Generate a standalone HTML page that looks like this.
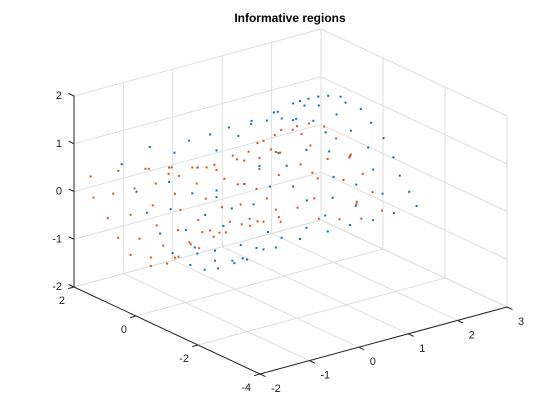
<!DOCTYPE html>
<html><head><meta charset="utf-8"><style>
html,body{margin:0;padding:0;background:#fff;}
svg{display:block;font-family:"Liberation Sans",Arial,sans-serif;}
</style></head><body>
<svg id="chart" width="560" height="420" viewBox="0 0 560 420" xmlns="http://www.w3.org/2000/svg">
<rect width="560" height="420" fill="#fff"/>
<text x="290" y="22" text-anchor="middle" font-size="12" font-weight="bold" fill="#000">Informative regions</text>
<g id="grid"></g>
<g id="axes"></g>
<g id="pts"></g>
</svg>
<script>
const xTicks=[-2,-1,0,1,2,3];
const yTicks=[-4,-2,0,2];
const zTicks=[-2,-1,0,1,2];
const yDepth=0;
const blueX=[-2.29,-1.72,-0.93,-0.50,-1.22,-0.37,-0.12,0.34,0.33,0.07,0.65,0.79,0.87,0.95,1.24,1.18,1.32,1.49,1.41,1.69,1.89,2.14,2.24,1.70,2.06,2.55,1.59,1.84,2.35,2.76,3.01,2.70,1.91,1.45,3.21,2.32,2.80,3.34,3.53,3.68,2.99,2.46,2.00,3.22,2.80,2.33,1.88,1.83,1.98,2.45,1.46,1.45,1.32,0.95,1.18,0.71,0.50,0.38,-0.06,0.19,-0.37,-0.86,-1.33,-1.99,-1.78,-1.30,-1.51,-0.99,-0.60,-0.23,-0.40,-0.81,-1.26,-0.76,-0.40,-0.01,-0.05,0.16,0.25,0.44,0.58,0.83,0.67,0.12,-0.34,-0.61,-0.90,1.05,1.18,0.88,-0.75,-0.37];
const blueZ=[1.26,1.46,1.37,1.38,1.20,1.01,1.42,1.43,1.37,1.19,1.35,1.48,1.47,1.31,1.22,1.56,1.57,1.57,1.45,1.56,1.52,1.43,1.28,1.37,1.08,1.06,1.08,0.77,0.66,0.71,0.32,0.21,0.35,0.51,-0.14,0.11,-0.28,-0.56,-0.95,-1.29,-0.84,-0.50,-0.21,-1.31,-1.34,-1.31,-1.32,-0.97,-0.64,-0.94,-0.55,-1.12,-1.32,-1.19,-0.18,-0.05,0.44,-0.33,-0.29,0.15,0.17,0.25,0.62,0.60,0.10,0.04,-0.41,-0.48,-0.28,-0.61,-1.08,-0.90,-0.89,-1.04,-1.29,-1.45,-1.39,-1.40,-1.45,-1.26,-1.33,-1.36,-0.99,-1.11,-1.47,-1.42,-1.24,0.29,1.21,0.61,0.76,0.03];
const redX=[-2.92,-2.86,-2.46,-2.36,-2.03,-1.81,-1.74,-1.60,-1.33,-1.13,-0.86,-0.76,-0.57,-0.41,-0.37,-0.21,-0.04,0.04,0.19,0.28,0.50,0.50,0.46,0.58,0.73,0.81,0.83,0.92,0.94,1.17,1.26,1.35,1.50,1.53,1.81,2.05,2.35,2.32,2.59,2.20,1.68,1.57,1.33,0.89,0.06,0.20,0.44,0.65,0.12,-0.26,-0.59,-0.77,-1.21,-1.66,-2.11,-2.57,-2.36,-1.93,-1.58,-1.15,-1.10,-0.74,-0.66,-0.50,-0.31,-0.43,-0.18,-0.10,0.14,0.31,0.30,0.46,0.58,0.83,0.89,0.93,1.27,1.61,1.70,2.12,2.47,2.46,2.56,2.79,2.98,1.88,2.33,-0.92,-0.89,-0.72,-1.21,-1.14,-1.37,-1.70,-1.70,-2.11,-1.45,-1.28,-1.34];
const redZ=[1.18,0.72,0.69,1.14,0.68,1.03,1.01,0.66,0.92,0.69,0.79,0.76,0.71,0.72,0.60,0.37,0.81,0.71,0.64,0.80,0.61,0.38,0.93,0.94,0.72,1.00,0.64,0.60,1.07,1.01,1.06,0.87,1.05,0.58,0.90,0.58,0.16,0.11,-0.31,-0.33,-0.15,0.00,0.24,0.14,0.18,0.15,-0.02,-0.28,-0.26,-0.21,0.06,0.43,0.34,0.22,0.15,0.21,-0.26,-0.40,-0.22,-0.44,-0.03,-0.34,-0.62,-0.63,-0.73,-0.78,-0.76,-0.56,-0.68,-0.76,-0.61,-0.71,-0.75,-0.57,-0.74,-0.85,-0.65,-0.55,-1.00,-1.13,-0.86,-0.91,-1.24,-0.75,-1.19,0.20,0.14,-0.76,-0.81,-0.94,-1.00,-1.00,-1.08,-0.86,-1.04,-0.69,-0.68,0.91,0.79];

const NS='http://www.w3.org/2000/svg';
const X0=-2,X1=3,Y0=-4,Y1=2,Z0=-2,Z1=2;
function proj(x,y,z){
  return [260+49.4*(x-X0)-31*(y-Y0), 374-13.4*(x-X0)-14.5*(y-Y0)-47.75*(z-Z0)];
}
function line(g,a,b,stroke,w,name){
  const l=document.createElementNS(NS,'line');
  l.setAttribute('x1',a[0]);l.setAttribute('y1',a[1]);l.setAttribute('x2',b[0]);l.setAttribute('y2',b[1]);
  l.setAttribute('stroke',stroke);l.setAttribute('stroke-width',w);
  
  
  g.appendChild(l);
}
function text(g,x,y,s,anchor,name){
  const t=document.createElementNS(NS,'text');
  t.setAttribute('x',x);t.setAttribute('y',y);t.setAttribute('text-anchor',anchor);
  t.setAttribute('font-size','11');t.setAttribute('fill','#262626');
  t.textContent=s;
  
  
  g.appendChild(t);
}
const grid=document.getElementById('grid');
const gc='#dedede';
// floor z=Z0
xTicks.forEach(x=>line(grid,proj(x,Y0,Z0),proj(x,Y1,Z0),gc,1,'floor-grid-x'));
yTicks.forEach(y=>line(grid,proj(X0,y,Z0),proj(X1,y,Z0),gc,1,'floor-grid-y'));
// back wall y=Y1
xTicks.forEach(x=>line(grid,proj(x,Y1,Z0),proj(x,Y1,Z1),gc,1,'back-grid-x'));
zTicks.forEach(z=>line(grid,proj(X0,Y1,z),proj(X1,Y1,z),gc,1,'back-grid-z'));
// side wall x=X1
yTicks.forEach(y=>line(grid,proj(X1,y,Z0),proj(X1,y,Z1),gc,1,'side-grid-y'));
zTicks.forEach(z=>line(grid,proj(X1,Y0,z),proj(X1,Y1,z),gc,1,'side-grid-z'));

const ax=document.getElementById('axes');
const ac='#262626';
line(ax,proj(X0,Y0,Z0),proj(X1,Y0,Z0),ac,1,'x-axis-line');
line(ax,proj(X0,Y0,Z0),proj(X0,Y1,Z0),ac,1,'y-axis-line');
line(ax,proj(X0,Y1,Z0),proj(X0,Y1,Z1),ac,1,'z-axis-line');
xTicks.forEach(x=>{
  const p=proj(x,Y0,Z0);
  line(ax,p,[p[0]+5.5,p[1]+2.6],ac,1,'x-tick');
  text(ax,p[0]+11,p[1]+18,String(x),'start','x-tick-label');
});
yTicks.forEach(y=>{
  const p=proj(X0,y,Z0);
  line(ax,p,[p[0]-5.8,p[1]+1.6],ac,1,'y-tick');
  text(ax,p[0]-9,p[1]+17,String(y),'end','y-tick-label');
});
zTicks.forEach(z=>{
  const p=proj(X0,Y1,z);
  line(ax,p,[p[0]-5.5,p[1]-2.6],ac,1,'z-tick');
  text(ax,p[0]-12,p[1]+3,String(z),'end','z-tick-label');
});

const pts=document.getElementById('pts');
function dots(xs,zs,color,name){
  xs.forEach((x,i)=>{
    const p=proj(x,yDepth,zs[i]);
    const c=document.createElementNS(NS,'rect');
    c.setAttribute('x',(p[0]-1).toFixed(1));c.setAttribute('y',(p[1]-1).toFixed(1));
    c.setAttribute('width','2');c.setAttribute('height','2');c.setAttribute('fill',color);
    
    
    pts.appendChild(c);
  });
}
dots(blueX,blueZ,'#0072BD','point-class-1');
dots(redX,redZ,'#D95319','point-class-2');
</script>
</body></html>
